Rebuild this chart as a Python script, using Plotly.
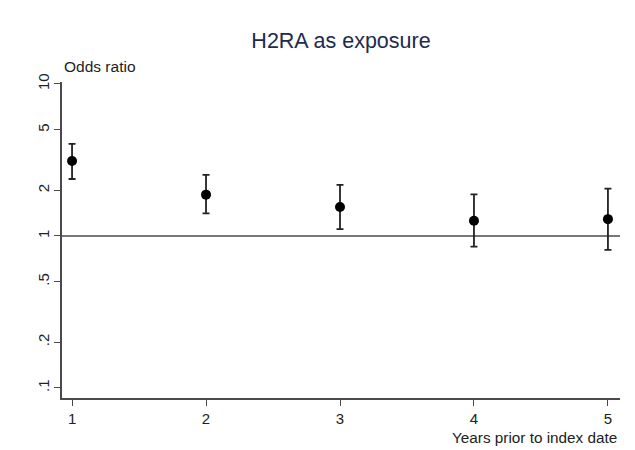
import plotly.graph_objects as go

years = [1, 2, 3, 4, 5]
odds_ratio = [3.11, 1.87, 1.55, 1.26, 1.29]
ci_upper = [4.03, 2.52, 2.17, 1.88, 2.05]
ci_lower = [2.37, 1.41, 1.11, 0.85, 0.81]

y_tick_vals = [0.1, 0.2, 0.5, 1, 2, 5, 10]
y_tick_text = [".1", ".2", ".5", "1", "2", "5", "10"]
x_tick_vals = [1, 2, 3, 4, 5]

err_plus = [u - o for u, o in zip(ci_upper, odds_ratio)]
err_minus = [o - l for o, l in zip(odds_ratio, ci_lower)]

FONT = "Arial, Liberation Sans, sans-serif"
AXIS_COLOR = "#4a4a4a"
TEXT_COLOR = "#222222"

# page body has an 8px default margin; figure sized to fill the remaining window
W, H = 627, 442

fig = go.Figure()
fig.add_trace(go.Scatter(
    x=years, y=odds_ratio, mode="markers",
    marker=dict(color="black", size=10),
    error_y=dict(type="data", symmetric=False, array=err_plus, arrayminus=err_minus,
                 color="#222222", thickness=1.8, width=3.5),
    showlegend=False, cliponaxis=False,
))

fig.add_shape(type="line", xref="paper", yref="y", x0=0, x1=1, y0=1, y1=1,
              line=dict(color=AXIS_COLOR, width=1.6), layer="below")

fig.update_layout(
    width=W, height=H,
    margin=dict(l=54, r=15, t=74, b=52),
    paper_bgcolor="white", plot_bgcolor="white",
    font=dict(family=FONT, size=15, color=TEXT_COLOR),
    title=dict(text="H2RA as exposure", x=0.5, xref="paper", y=1 - 32 / H,
               yanchor="middle", xanchor="center",
               font=dict(family=FONT, size=21.5, color="#1e2b4c")),
    xaxis=dict(range=[0.925, 5.09], tickvals=x_tick_vals, ticks="outside", ticklen=6,
               tickcolor=AXIS_COLOR, showline=True, linecolor=AXIS_COLOR, linewidth=1.6,
               showgrid=False, zeroline=False, tickfont=dict(size=15, color=TEXT_COLOR)),
    yaxis=dict(type="log", range=[-1.066, 1.013], tickvals=y_tick_vals, ticktext=y_tick_text,
               ticks="outside", ticklen=6, tickcolor=AXIS_COLOR, showline=True,
               linecolor=AXIS_COLOR, linewidth=1.6, showgrid=False, zeroline=False,
               tickangle=-90, ticklabelstandoff=-1,
               tickfont=dict(size=15, color=TEXT_COLOR)),
    annotations=[
        dict(text="Odds ratio", xref="paper", yref="paper", x=0, y=1, xanchor="left",
             yanchor="bottom", yshift=5, showarrow=False, font=dict(size=15.5, color=TEXT_COLOR)),
        dict(text="Years prior to index date", xref="paper", yref="paper", x=1, y=0,
             xanchor="right", yanchor="middle", yshift=-39, xshift=-1, showarrow=False,
             font=dict(size=15.3, color=TEXT_COLOR)),
    ],
)

fig.write_html("out.html")
